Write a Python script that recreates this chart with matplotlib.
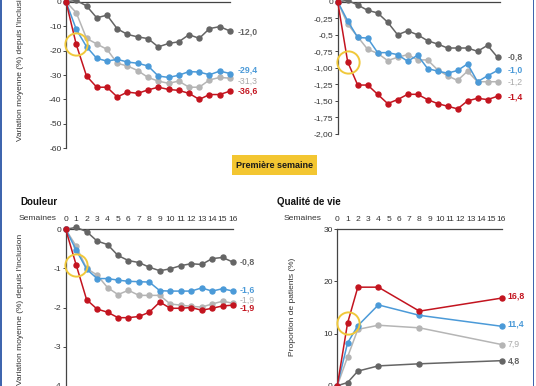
import matplotlib
matplotlib.use("Agg")
import matplotlib.pyplot as plt
from matplotlib import font_manager as fm
from matplotlib.patches import Rectangle

# ---------------- data ----------------
weeks = list(range(17))
week_labels = [str(w) for w in weeks]

# panel A (top left, % change)
a_dark = [0, 0.5, -1.7, -6.6, -5.5, -11.1, -13.4, -14.4, -15.1, -18.5, -17.1, -16.4, -13.5, -15.0, -11.0, -10.2, -12.0]
a_light = [0, -4.5, -15.0, -17.3, -19.5, -25.2, -26.3, -28.2, -31.0, -32.5, -33.4, -32.5, -35.0, -35.0, -32.0, -31.0, -31.3]
a_blue = [0, -11.3, -18.4, -23.2, -24.3, -23.6, -24.7, -25.2, -26.3, -30.4, -31.0, -30.1, -28.6, -28.8, -29.9, -28.4, -29.4]
a_red = [0, -17.5, -30.4, -35.0, -35.0, -39.0, -37.0, -37.5, -36.1, -35.0, -35.9, -36.3, -37.5, -40.0, -38.0, -38.0, -36.6]
a_end_labels = ["-12,0", "-31,3", "-29,4", "-36,6"]
a_yticks = [0, -10, -20, -30, -40, -50, -60]
a_yticklabels = ["0", "-10", "-20", "-30", "-40", "-50", "-60"]

# panel B (top right)
b_dark = [0, 0.02, -0.05, -0.13, -0.17, -0.31, -0.50, -0.44, -0.50, -0.59, -0.64, -0.70, -0.70, -0.70, -0.75, -0.66, -0.84]
b_light = [0, -0.34, -0.53, -0.72, -0.78, -0.89, -0.84, -0.80, -0.88, -0.88, -1.03, -1.12, -1.19, -1.05, -1.21, -1.21, -1.21]
b_blue = [0, -0.29, -0.54, -0.55, -0.77, -0.77, -0.80, -0.90, -0.81, -1.01, -1.05, -1.08, -1.04, -0.94, -1.21, -1.12, -1.04]
b_red = [0, -0.91, -1.26, -1.26, -1.40, -1.54, -1.48, -1.40, -1.40, -1.48, -1.54, -1.58, -1.62, -1.50, -1.46, -1.48, -1.43]
b_end_labels = ["-0,8", "-1,2", "-1,0", "-1,4"]
b_yticks = [0, -0.25, -0.5, -0.75, -1.0, -1.25, -1.5, -1.75, -2.0]
b_yticklabels = ["0", "-0,25", "-0,5", "-0,75", "-1,00", "-1,25", "-1,50", "-1,75", "-2,00"]

# panel C (Douleur)
c_dark = [0, 0.05, -0.06, -0.30, -0.39, -0.67, -0.80, -0.85, -0.97, -1.06, -1.01, -0.93, -0.88, -0.90, -0.75, -0.72, -0.84]
c_light = [0, -0.43, -1.00, -1.17, -1.49, -1.67, -1.56, -1.69, -1.69, -1.69, -1.91, -1.94, -1.97, -1.99, -1.91, -1.84, -1.89]
c_blue = [0, -0.53, -1.02, -1.26, -1.26, -1.30, -1.33, -1.34, -1.35, -1.57, -1.58, -1.58, -1.58, -1.50, -1.58, -1.52, -1.58]
c_red = [0, -0.91, -1.80, -2.04, -2.12, -2.26, -2.26, -2.23, -2.12, -1.86, -2.02, -2.02, -2.00, -2.07, -2.02, -1.96, -1.94]
c_end_labels = ["-0,8", "-1,9", "-1,6", "-1,9"]
c_yticks = [0, -1, -2, -3, -4]
c_yticklabels = ["0", "-1", "-2", "-3", "-4"]

# panel D (Qualité de vie)
d_weeks = [0, 1, 2, 4, 8, 16]
d_dark = [0, 0.6, 2.8, 3.8, 4.2, 4.8]
d_light = [0, 5.5, 10.8, 11.6, 11.1, 7.9]
d_blue = [0, 8.2, 11.5, 15.5, 13.5, 11.4]
d_red = [0, 12.0, 18.9, 18.9, 14.3, 16.8]
d_end_labels = ["4,8", "7,9", "11,4", "16,8"]
d_yticks = [0, 10, 20, 30]
d_yticklabels = ["0", "10", "20", "30"]

ylabel_change = "Variation moyenne (%) depuis l'inclusion"
ylabel_prop = "Proportion de patients (%)"
title_c = "Douleur"
title_d = "Qualité de vie"
weeks_word = "Semaines"
box_text = "Première semaine"

# ---------------- style ----------------
W, H, DPI = 536, 386, 100
names = {f.name for f in fm.fontManager.ttflist}
FAM = "Liberation Sans" if "Liberation Sans" in names else "DejaVu Sans"
plt.rcParams["font.family"] = [FAM, "DejaVu Sans"]

C_DARK = "#656565"
C_LIGHT = "#b5b5b5"
C_BLUE = "#4b9ad8"
C_RED = "#c3141f"
C_YEL = "#f0c83a"
C_AX = "#444444"
C_TXT = "#333333"
colors = [C_DARK, C_LIGHT, C_BLUE, C_RED]
lab_colors = [C_DARK, "#a9a9a9", C_BLUE, C_RED]
lab_weights = ["bold", "normal", "bold", "bold"]

fig = plt.figure(figsize=(W / DPI, H / DPI), dpi=DPI)
fig.patch.set_facecolor("white")


def px_axes(left, right, top, bottom):
    return fig.add_axes([left / W, 1 - bottom / H, (right - left) / W, (bottom - top) / H])


def style_axes(ax, yticks, yticklabels, ylim, xlim, show_weeks):
    ax.set_facecolor("none")
    ax.set_xlim(*xlim)
    ax.set_ylim(*ylim)
    for s in ["right", "bottom"]:
        ax.spines[s].set_visible(False)
    for s in ["left", "top"]:
        ax.spines[s].set_color(C_AX)
        ax.spines[s].set_linewidth(0.9)
    ax.set_yticks(yticks)
    ax.set_yticklabels(yticklabels)
    ax.tick_params(axis="y", direction="out", length=2, width=0.7, color=C_AX,
                   labelsize=6.1, labelcolor=C_TXT, pad=1.2)
    ax.xaxis.tick_top()
    if show_weeks:
        ax.set_xticks(weeks)
        ax.set_xticklabels(week_labels)
        ax.tick_params(axis="x", length=0, labelsize=6.1, labelcolor=C_TXT, pad=4.3)
    else:
        ax.set_xticks([])


def draw_series(ax, x, series, end_labels, yoffs, xoff):
    for ys, c in zip(series, colors):
        ax.plot(x, ys, color=c, lw=1.1, marker="o", ms=3.6, mec=c, mfc=c,
                clip_on=False, zorder=3)
    for ys, lab, c, w, dy in zip(series, end_labels, lab_colors, lab_weights, yoffs):
        ax.annotate(lab, xy=(x[-1], ys[-1]), xytext=(xoff, dy), textcoords="offset points",
                    ha="left", va="center", fontsize=6.3, color=c, fontweight=w,
                    annotation_clip=False)
    # highlight circle around first-week value of the red series
    ax.plot([x[1]], [series[3][1]], marker="o", ms=16, mfc="none", mec=C_YEL,
            mew=1.4, clip_on=False, zorder=4)


# ---- panel A
axA = px_axes(66, 230, 1.7, 148.3)
style_axes(axA, a_yticks, a_yticklabels, (-60, 0), (0, 16), False)
draw_series(axA, weeks, [a_dark, a_light, a_blue, a_red], a_end_labels,
            [-1.0, -2.2, 2.6, 0], 5.5)

# ---- panel B
axB = px_axes(337.7, 500.5, 1.7, 134)
style_axes(axB, b_yticks, b_yticklabels, (-2, 0), (0, 16.3), False)
draw_series(axB, weeks, [b_dark, b_light, b_blue, b_red], b_end_labels,
            [0, -0.7, 0, -0.7], 7.0)

# ---- panel C
axC = px_axes(65.7, 233, 229.3, 385.7)
style_axes(axC, c_yticks, c_yticklabels, (-4, 0), (0, 16), True)
draw_series(axC, weeks, [c_dark, c_light, c_blue, c_red], c_end_labels,
            [0, 2.3, 0.7, -2.3], 5.0)

# ---- panel D
axD = px_axes(337.3, 501.5, 229.3, 385.7)
style_axes(axD, d_yticks, d_yticklabels, (0, 30), (0, 16), True)
draw_series(axD, d_weeks, [d_dark, d_light, d_blue, d_red], d_end_labels,
            [0, 0, 1.8, 1.5], 4.5)


def ftext(x, y, s, **kw):
    fig.text(x / W, 1 - y / H, s, **kw)


# y labels
ftext(20.7, 65.5, ylabel_change, rotation=90, ha="center", va="center", fontsize=6, color=C_TXT)
ftext(20.7, 309.5, ylabel_change, rotation=90, ha="center", va="center", fontsize=6, color=C_TXT)
ftext(292.7, 306.7, ylabel_prop, rotation=90, ha="center", va="center", fontsize=6, color=C_TXT)

# titles and week words
ftext(20, 201.7, title_c, ha="left", va="center", fontsize=7, fontweight="bold", color="#111111")
ftext(276.7, 201.7, title_d, ha="left", va="center", fontsize=7, fontweight="bold", color="#111111")
ftext(56.7, 218.6, weeks_word, ha="right", va="center", fontsize=6.1, color=C_TXT)
ftext(321.7, 218.6, weeks_word, ha="right", va="center", fontsize=6.1, color=C_TXT)

# yellow box
fig.patches.append(Rectangle((232 / W, 1 - 175 / H), 85 / W, 20 / H,
                             transform=fig.transFigure, facecolor="#f3c631", edgecolor="none"))
ftext(274.5, 165.3, box_text, ha="center", va="center", fontsize=6.5, fontweight="bold", color="#1a1a1a")

# blue frame borders (left / right)
fig.patches.append(Rectangle((0, 0), 2 / W, 1, transform=fig.transFigure,
                             facecolor="#3f65ae", edgecolor="none"))
fig.patches.append(Rectangle((532.5 / W, 0), 1.6 / W, 1, transform=fig.transFigure,
                             facecolor="#3f65ae", edgecolor="none"))

fig.savefig("out.png", dpi=DPI)
